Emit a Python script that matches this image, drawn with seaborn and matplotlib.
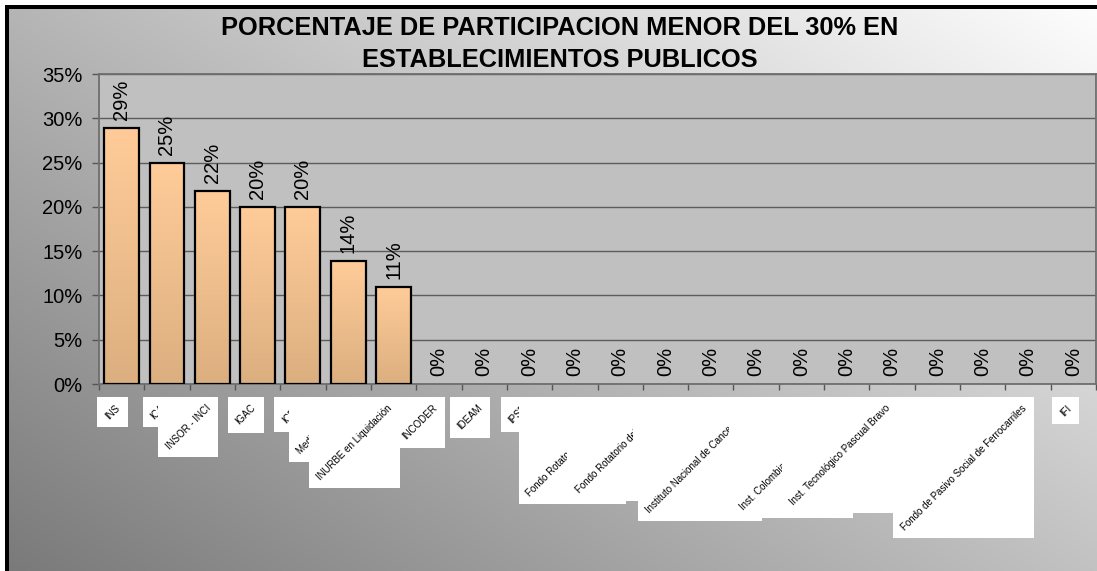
import numpy as np
import matplotlib
matplotlib.use("Agg")
import matplotlib.pyplot as plt
import seaborn as sns
import pandas as pd
from matplotlib.patches import Rectangle
from matplotlib.lines import Line2D
from matplotlib.transforms import IdentityTransform
from matplotlib.ticker import PercentFormatter

# ---------------- data ----------------
categories = [
    "INS", "ICA", "INSOR - INCI", "IGAC", "ICBF", "Medicina Legal",
    "INURBE en Liquidación", "INCODER", "IDEAM", "IPSE", "ICFES",
    "Fondo Rotatorio de la Policía", "Fondo Rotatorio del Ejército",
    "Inst. de Cancerología", "Instituto Nacional de Cancerología",
    "Inst. Caro y Cuervo", "Inst. Colombiano de Antropología",
    "Inst. Tecnológico Pascual Bravo", "IDEP", "ICETEX",
    "Fondo de Pasivo Social de Ferrocarriles", "IFI",
]
values = [28.9, 25.0, 21.8, 20.0, 20.0, 13.9, 11.0,
          0.0, 0.0, 0.0, 0.0, 0.0, 0.0, 0.0, 0.0,
          0.0, 0.0, 0.0, 0.0, 0.0, 0.0, 0.0]
y_ticks = [0, 5, 10, 15, 20, 25, 30, 35]
title_lines = ["PORCENTAJE DE PARTICIPACION MENOR DEL 30% EN",
               "ESTABLECIMIENTOS PUBLICOS"]

# ---------------- style ----------------
sns.set_theme(style="white")
plt.rcParams['font.family'] = ['Liberation Sans', 'DejaVu Sans']

W, H, DPI = 1097, 571, 100
fig = plt.figure(figsize=(W / DPI, H / DPI), dpi=DPI, facecolor='white')

# background gradient (dark bottom-left -> light top-right)
bg = fig.add_axes([9 / W, 0, 1 - 9 / W, 1 - 9 / H], zorder=-2)
xf = np.linspace(0, 1, 300)[None, :]
yf = np.linspace(0, 1, 300)[:, None]
s = 0.55 * xf + 0.45 * (1 - yf)
g = (122 + 131 * s) / 255
bg.imshow(np.dstack([g, g, g]), aspect='auto', extent=[0, 1, 0, 1],
          origin='upper', interpolation='bilinear')
bg.set_axis_off()

# black chart border (only top and left edges are inside the picture)
lw_px = 4
fig.add_artist(Line2D([5 / W, 1.0], [1 - 7 / H, 1 - 7 / H], transform=fig.transFigure,
                      color='black', linewidth=lw_px * 72 / DPI, solid_capstyle='butt',
                      zorder=-1))
fig.add_artist(Line2D([7 / W, 7 / W], [0.0, 1 - 5 / H], transform=fig.transFigure,
                      color='black', linewidth=lw_px * 72 / DPI, solid_capstyle='butt',
                      zorder=-1))

# main axes
ax = fig.add_axes([99 / W, 1 - 384 / H, (1096 - 99) / W, (384 - 74) / H])
ax.set_facecolor('#c0c0c0')

df = pd.DataFrame({'cat': categories, 'val': np.array(values) / 100})
sns.barplot(data=df, x='cat', y='val', order=categories, color='#ffcc99',
            saturation=1, width=0.77, edgecolor='black', linewidth=1.6,
            ax=ax, zorder=3)

# gradient fill inside bars
t = np.linspace(0, 1, 100)[:, None, None]
top = np.array([255, 204, 153]) / 255
bot = np.array([220, 175, 128]) / 255
img = top * (1 - t) + bot * t
for p, v in zip(ax.patches, values):
    if v <= 0:
        p.set_linewidth(0)
        continue
    x0, w, h = p.get_x(), p.get_width(), p.get_height()
    im = ax.imshow(img, extent=[x0, x0 + w, 0, h], aspect='auto',
                   origin='upper', zorder=2.8, interpolation='bilinear')
    im.set_clip_path(p)
    p.set_facecolor('none')

ax.set_xlim(-0.5, len(categories) - 0.5)
ax.set_ylim(0, 0.35)
ax.set_xlabel('')
ax.set_ylabel('')

# grid & spines
ax.set_axisbelow(True)
ax.yaxis.grid(True, color='#5c5c5c', linewidth=1.0)
ax.xaxis.grid(False)
for sp in ax.spines.values():
    sp.set_visible(True)
    sp.set_color('#6e6e6e')
    sp.set_linewidth(1.3)

ax.set_yticks(np.array(y_ticks) / 100)
ax.yaxis.set_major_formatter(PercentFormatter(1, decimals=0))
ax.tick_params(axis='y', direction='out', length=5, width=1, color='#555555',
               pad=7, labelsize=14.5, labelcolor='black', left=True)
ax.set_xticks(np.arange(-0.5, len(categories), 1.0))
ax.set_xticklabels([])
ax.tick_params(axis='x', direction='out', length=4.5, width=1, color='#555555',
               bottom=True)

# value labels
for i, v in enumerate(values):
    ax.annotate(f"{v:.0f}%", xy=(i, v / 100), xytext=(0, 8),
                textcoords='offset pixels', rotation=90, ha='center',
                va='bottom', fontsize=14.5, color='black', zorder=6)

# category labels with white boxes
labels = []
for i, name in enumerate(categories):
    tl = ax.annotate(name, xy=(i, 0), xycoords=('data', 'axes fraction'),
                     xytext=(-7, -19), textcoords='offset pixels', rotation=45,
                     rotation_mode='anchor', ha='right', va='top',
                     fontsize=7, color='black', zorder=20 + 2 * i,
                     annotation_clip=False)
    labels.append(tl)

# titles
fig.text(0.51, 1 - 28 / H, title_lines[0], ha='center', va='center',
         fontsize=18.3, fontweight='bold', color='black')
fig.text(0.51, 1 - 60 / H, title_lines[1], ha='center', va='center',
         fontsize=18.3, fontweight='bold', color='black')

fig.canvas.draw()
renderer = fig.canvas.get_renderer()
pad = 6
for i, tl in enumerate(labels):
    bb = tl.get_window_extent(renderer)
    r = Rectangle((bb.x0 - pad, bb.y0 - pad), bb.width + 2 * pad,
                  bb.height + 2 * pad, transform=IdentityTransform(),
                  facecolor='white', edgecolor='none', clip_on=False,
                  zorder=19 + 2 * i)
    ax.add_artist(r)

fig.savefig('out.png', dpi=DPI)
